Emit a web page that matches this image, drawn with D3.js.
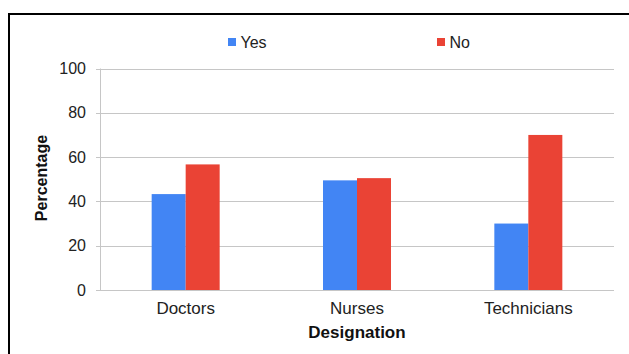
<!DOCTYPE html>
<html>
<head>
<meta charset="utf-8">
<script src="https://cdn.jsdelivr.net/npm/d3@7"></script>
<style>
  body { margin: 0; background: #fff; }
  svg { display: block; font-family: "Liberation Sans", Arial, sans-serif; }
</style>
</head>
<body>
<svg id="chart" width="629" height="354"></svg>
<script>
// data
var categories = ["Doctors", "Nurses", "Technicians"];
var seriesNames = ["Yes", "No"];
var yesValues = [43.3, 49.5, 30];
var noValues = [56.7, 50.5, 70];
var yTicks = [0, 20, 40, 60, 80, 100];
var colors = ["#4285f4", "#ea4335"];

var svg = d3.select("#chart");

// frame
svg.append("rect")
  .attr("x", 9).attr("y", 14)
  .attr("width", 700).attr("height", 400)
  .attr("fill", "none").attr("stroke", "#000").attr("stroke-width", 2);

var plotLeft = 100, plotRight = 614, plotTop = 68.5, plotBottom = 290;

var x = d3.scaleBand().domain(categories).range([plotLeft, plotRight]);
var y = d3.scaleLinear().domain([0, 100]).range([plotBottom, plotTop]);
var barW = 34;
var xs = d3.scaleBand().domain(seriesNames).range([-barW, barW]);

// gridlines
svg.append("g").selectAll("line").data(yTicks).enter().append("line")
  .attr("x1", plotLeft - 4).attr("x2", plotRight)
  .attr("y1", d => Math.round(y(d)) + 0.5).attr("y2", d => Math.round(y(d)) + 0.5)
  .attr("stroke", "#c6c6c6").attr("stroke-width", 1);

// y axis line
svg.append("line")
  .attr("x1", plotLeft + 0.5).attr("x2", plotLeft + 0.5)
  .attr("y1", plotTop).attr("y2", plotBottom)
  .attr("stroke", "#c6c6c6");

// y tick labels
svg.append("g").selectAll("text").data(yTicks).enter().append("text")
  .attr("x", 86).attr("y", d => y(d))
  .attr("dy", "0.35em")
  .attr("text-anchor", "end")
  .attr("font-size", 16).attr("fill", "#222")
  .text(d => d);

// bars
var rows = categories.map((c, i) => ({ cat: c, vals: [yesValues[i], noValues[i]] }));
var groups = svg.append("g").selectAll("g").data(rows).enter().append("g")
  .attr("transform", d => "translate(" + (x(d.cat) + x.bandwidth() / 2) + ",0)");
groups.selectAll("rect")
  .data(d => d.vals.map((v, j) => ({ name: seriesNames[j], v: v, j: j })))
  .enter().append("rect")
  .attr("x", d => xs(d.name))
  .attr("width", xs.bandwidth())
  .attr("y", d => y(d.v))
  .attr("height", d => y(0) - y(d.v))
  .attr("fill", d => colors[d.j]);

// x labels
svg.append("g").selectAll("text").data(categories).enter().append("text")
  .attr("x", d => x(d) + x.bandwidth() / 2)
  .attr("y", 314)
  .attr("text-anchor", "middle")
  .attr("font-size", 17).attr("fill", "#222")
  .text(d => d);

// axis titles
svg.append("text")
  .attr("x", 357).attr("y", 338)
  .attr("text-anchor", "middle")
  .attr("font-size", 17).attr("font-weight", "bold").attr("fill", "#111")
  .text("Designation");

svg.append("text")
  .attr("transform", "translate(47,178) rotate(-90)")
  .attr("text-anchor", "middle")
  .attr("font-size", 16).attr("font-weight", "bold").attr("fill", "#111")
  .text("Percentage");

// legend
var legendX = [228, 437];
var legend = svg.append("g").selectAll("g").data(seriesNames).enter().append("g")
  .attr("transform", (d, i) => "translate(" + legendX[i] + ",42)");
legend.append("rect")
  .attr("x", 0).attr("y", -4).attr("width", 8).attr("height", 8)
  .attr("fill", (d, i) => colors[i]);
legend.append("text")
  .attr("x", 12.5).attr("y", 5.5)
  .attr("font-size", 16).attr("fill", "#222")
  .text(d => d);
</script>
</body>
</html>
